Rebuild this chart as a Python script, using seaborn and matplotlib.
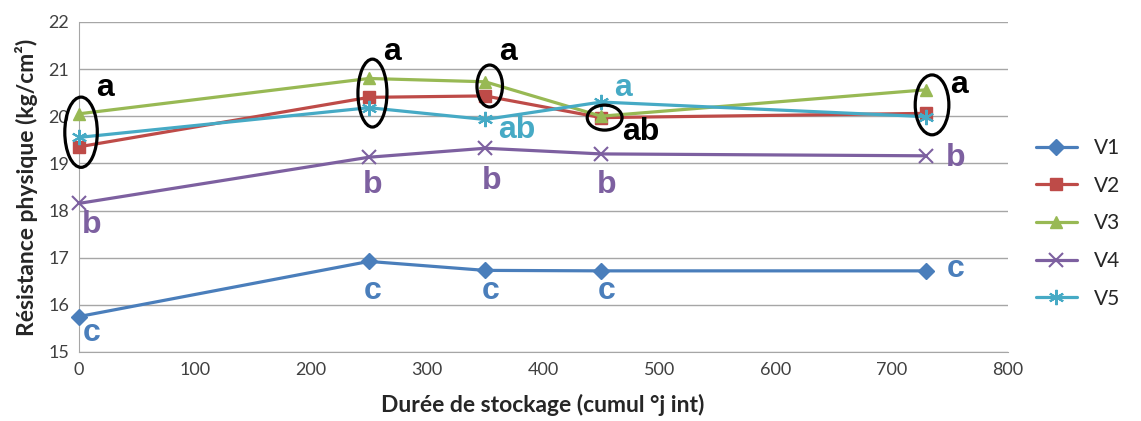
import pandas as pd
import matplotlib
matplotlib.use("Agg")
import matplotlib.pyplot as plt
from matplotlib.patches import Ellipse
import seaborn as sns

# valeurs
duree = [0, 250, 350, 450, 730]
v1 = [15.75, 16.92, 16.73, 16.72, 16.72]
v2 = [19.35, 20.40, 20.43, 19.97, 20.06]
v3 = [20.05, 20.80, 20.73, 20.00, 20.56]
v4 = [18.15, 19.13, 19.32, 19.20, 19.16]
v5 = [19.55, 20.18, 19.93, 20.30, 19.99]
varietes = ["V1", "V2", "V3", "V4", "V5"]

# lettres de significativité : (durée, valeur, texte, couleur)
lettres = [
    (23, 20.6, "a", "black"), (11, 17.7, "b", "#7D60A0"), (11, 15.4, "c", "#4A7EBB"),
    (270, 21.36, "a", "black"), (253, 18.54, "b", "#7D60A0"), (253, 16.3, "c", "#4A7EBB"),
    (370, 21.36, "a", "black"), (377, 19.7, "ab", "#46AAC5"), (356, 18.62, "b", "#7D60A0"), (355, 16.3, "c", "#4A7EBB"),
    (469, 20.6, "a", "#46AAC5"), (484, 19.66, "ab", "black"), (455, 18.54, "b", "#7D60A0"), (455, 16.3, "c", "#4A7EBB"),
    (758, 20.66, "a", "black"), (755, 19.12, "b", "#7D60A0"), (755, 16.75, "c", "#4A7EBB"),
]
# ellipses : (centre x, centre y, largeur, hauteur)
ellipses = [(2, 19.66, 28, 1.49), (253, 20.49, 25, 1.44), (354, 20.64, 22, 0.89),
            (453, 19.97, 30, 0.53), (735, 20.24, 29, 1.27)]

df = pd.DataFrame({"duree": duree * 5,
                   "resistance": v1 + v2 + v3 + v4 + v5,
                   "variete": [v for v in varietes for _ in duree]})

couleurs = {"V1": "#4A7EBB", "V2": "#BE4B48", "V3": "#98B954", "V4": "#7D60A0", "V5": "#46AAC5"}
marqueurs = {"V1": "D", "V2": "s", "V3": "^", "V4": "x", "V5": (6, 2, 0)}
tailles = {"V1": 8, "V2": 9, "V3": 9, "V4": 10, "V5": 11}

sns.set_style("white")
plt.rcParams["font.family"] = ["Lato", "DejaVu Sans"]

fig, ax = plt.subplots(figsize=(11.41, 4.21), dpi=100)
fig.subplots_adjust(left=0.069, right=0.883, top=0.948, bottom=0.164)

for v in varietes:
    sub = df[df["variete"] == v]
    mfilled = v in ("V1", "V2", "V3")
    sns.lineplot(data=sub, x="duree", y="resistance", ax=ax, label=v,
                 color=couleurs[v], marker=marqueurs[v], markersize=tailles[v],
                 markeredgecolor=couleurs[v], markeredgewidth=1.0 if mfilled else 1.5,
                 linewidth=2.3, clip_on=False, zorder=3)

ax.set_xlim(0, 800)
ax.set_ylim(15, 22)
ax.set_xticks(range(0, 801, 100))
ax.set_yticks(range(15, 23))
ax.yaxis.grid(True, color="#A6A6A6", linewidth=1)
ax.set_axisbelow(True)
for s in ["top", "right"]:
    ax.spines[s].set_visible(False)
for s in ["left", "bottom"]:
    ax.spines[s].set_color("#A6A6A6")
ax.tick_params(axis="both", labelsize=13, colors="#404040", length=0, pad=7)
ax.set_xlabel("Durée de stockage (cumul °j int)", fontsize=16.5, fontweight="bold", labelpad=12)
ax.set_ylabel("Résistance physique (kg/cm²)", fontsize=16.5, fontweight="bold", labelpad=7)

for x, y, t, c in lettres:
    ax.text(x, y, t, color=c, fontsize=23, fontweight="bold", ha="center", va="center",
            family=["Liberation Sans", "DejaVu Sans"])

for x, y, w, h in ellipses:
    ax.add_patch(Ellipse((x, y), w, h, fill=False, edgecolor="black", linewidth=2.3,
                         clip_on=False, zorder=4))

ax.legend(loc="center left", bbox_to_anchor=(1.01, 0.39), frameon=False, fontsize=15,
          labelspacing=0.85, handlelength=2.0)

fig.savefig("out.png", dpi=100)
